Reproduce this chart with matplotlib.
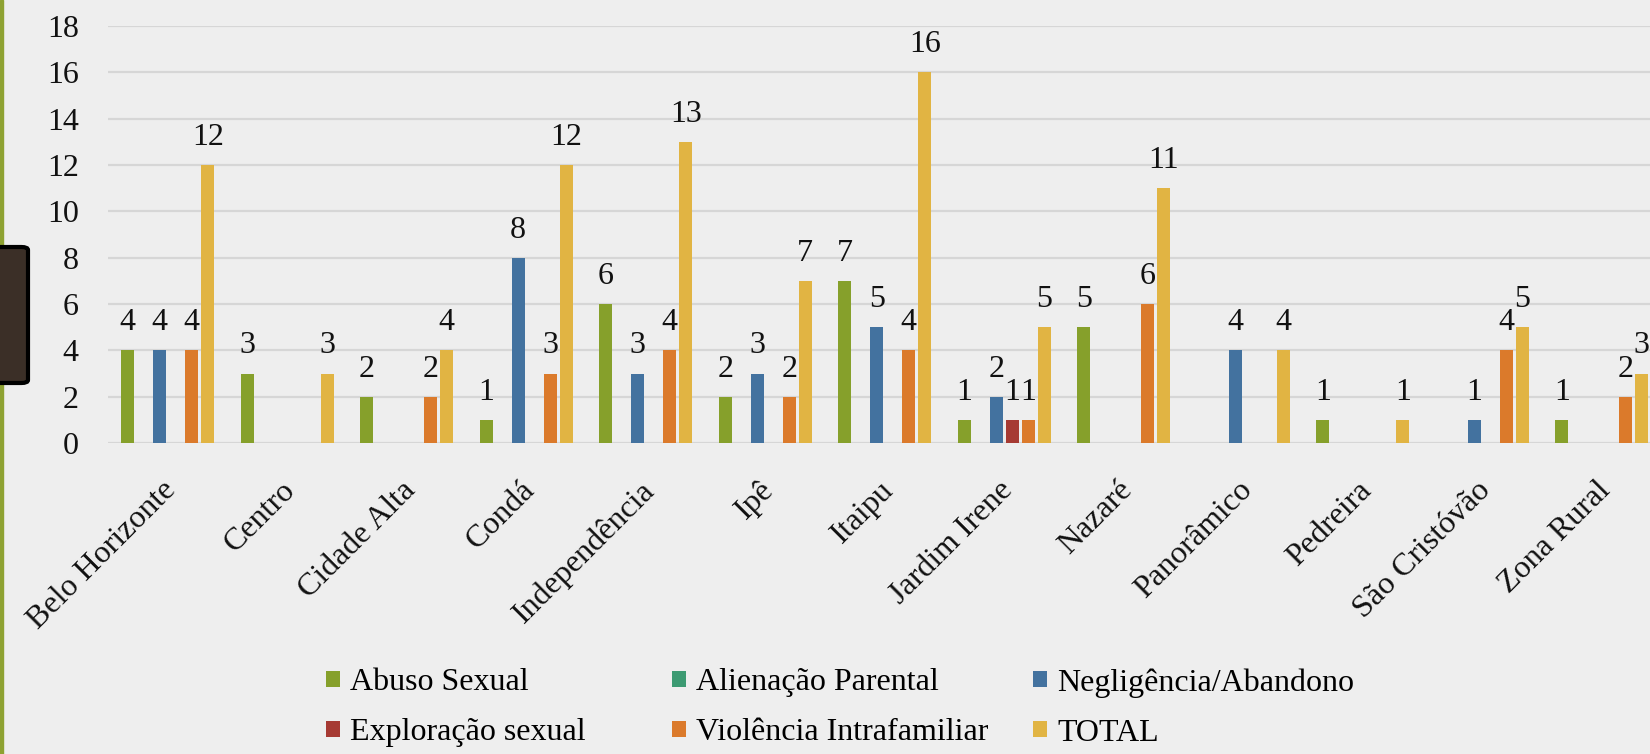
import numpy as np
import matplotlib
matplotlib.use('Agg')
import matplotlib.pyplot as plt
from matplotlib.patches import FancyBboxPatch, Rectangle
from matplotlib.transforms import ScaledTranslation

plt.rcParams['font.family'] = ['Liberation Serif', 'DejaVu Serif']

bairros = ['Belo Horizonte', 'Centro', 'Cidade Alta', 'Condá', 'Independência', 'Ipê',
           'Itaipu', 'Jardim Irene', 'Nazaré', 'Panorâmico', 'Pedreira', 'São Cristóvão',
           'Zona Rural']
abuso_sexual = [4, 3, 2, 1, 6, 2, 7, 1, 5, 0, 1, 0, 1]
alienacao_parental = [0, 0, 0, 0, 0, 0, 0, 0, 0, 0, 0, 0, 0]
negligencia = [4, 0, 0, 8, 3, 3, 5, 2, 0, 4, 0, 1, 0]
exploracao_sexual = [0, 0, 0, 0, 0, 0, 0, 1, 0, 0, 0, 0, 0]
violencia = [4, 0, 2, 3, 4, 2, 4, 1, 6, 0, 0, 4, 2]
total = [12, 3, 4, 12, 13, 7, 16, 5, 11, 4, 1, 5, 3]

series = [
    ('Abuso Sexual', abuso_sexual, '#86A02B'),
    ('Alienação Parental', alienacao_parental, '#3C9A72'),
    ('Negligência/Abandono', negligencia, '#43729F'),
    ('Exploração sexual', exploracao_sexual, '#A63A33'),
    ('Violência Intrafamiliar', violencia, '#DB7A2B'),
    ('TOTAL', total, '#E1B443'),
]

W, H = 1650, 754
bg = '#EEEEEE'
fig = plt.figure(figsize=(W / 100, H / 100), dpi=100, facecolor=bg)

# plot area runs a bit past the right edge, like the slide
ax = fig.add_axes([108 / W, 311 / H, 1553.5 / W, 417 / H])
ax.set_facecolor(bg)

x = np.arange(len(bairros))
step = 0.134
width = 0.109
handles = []
for k, (name, vals, col) in enumerate(series):
    pos = x + (k - 2.5) * step
    vals = np.array(vals)
    b = ax.bar(pos, vals, width, color=col, label=name, zorder=3)
    handles.append(b)
    for xi, v in zip(pos, vals):
        if v > 0:
            ax.annotate(str(v), (xi, v), xytext=(0, 14.5), textcoords='offset points',
                        ha='center', va='baseline', fontsize=23, color='#111111')

ax.set_xlim(-0.5, len(bairros) - 0.5)
ax.set_ylim(0, 18)
ax.set_yticks(range(0, 19, 2))
ax.yaxis.grid(True, color='#D6D6D6', lw=1.6, zorder=0)
ax.set_axisbelow(True)
for s in ax.spines.values():
    s.set_visible(False)
ax.tick_params(axis='y', length=0, pad=21, labelsize=23, labelcolor='#111111')
ax.tick_params(axis='x', length=0, pad=23.5, labelsize=23, labelcolor='#111111')
ax.set_xticks(x)
ax.set_xticklabels(bairros, rotation=45, ha='right', va='top', rotation_mode='anchor')
offset = ScaledTranslation(-6 / 100, 0, fig.dpi_scale_trans)
for lbl in ax.get_xticklabels():
    lbl.set_transform(lbl.get_transform() + offset)

# legend: three columns placed like the original
col_x = [326, 672, 1033]
for c in range(3):
    hs = [handles[c], handles[c + 3]]
    fig.legend(hs, [h.get_label() for h in hs], loc='upper left',
               bbox_to_anchor=(col_x[c] / W, 1 - 668 / H), frameon=False,
               fontsize=23, handlelength=0.45, handleheight=0.4, handletextpad=0.3,
               labelspacing=0.66, borderpad=0, borderaxespad=0)

# slide decorations on the left edge
fig.add_artist(Rectangle((0, 0), 3 / W, 1, transform=fig.transFigure,
                         color='#8EA232', zorder=5))
fig.add_artist(FancyBboxPatch((-10 / W, 1 - 383 / H), 38 / W, 136 / H,
                              boxstyle='round,pad=0,rounding_size=0.004',
                              transform=fig.transFigure, facecolor='#3B2F27',
                              edgecolor='black', lw=3, zorder=5))

fig.savefig('out.png', dpi=100, facecolor=bg)
